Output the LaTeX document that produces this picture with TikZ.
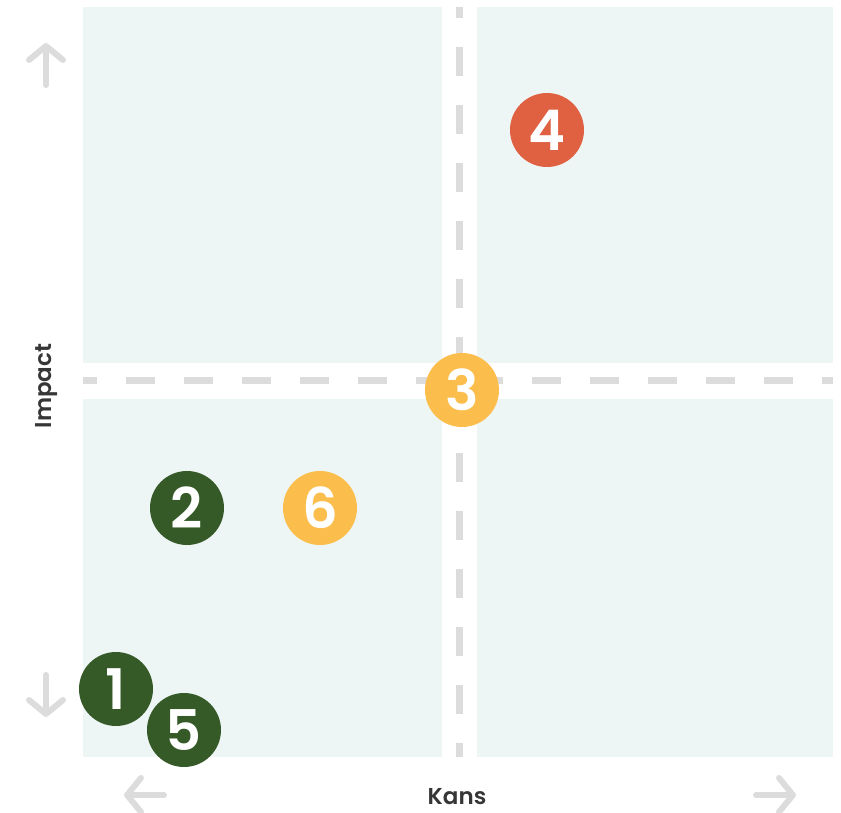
\documentclass[tikz,border=0pt]{standalone}
\usepackage{fontspec}
\setmainfont{Poppins}
\newfontfamily\numfont{Poppins SemiBold}
\newfontfamily\labfont{Poppins SemiBold}
\usetikzlibrary{arrows.meta}
\definecolor{quadfill}{HTML}{EEF6F5}
\definecolor{axgray}{HTML}{DCDCDC}
\definecolor{dkgreen}{HTML}{355A27}
\definecolor{rust}{HTML}{DF6142}
\definecolor{sun}{HTML}{FBBD4C}
\definecolor{inkgray}{HTML}{363636}

\begin{document}
\begin{tikzpicture}[
    x=1pt, y=-1pt,
    quad/.style={fill=quadfill},
    divider/.style={axgray, line width=7pt, dash pattern=on 29pt off 29pt},
    axarrow/.style={axgray, line width=6pt, line cap=round,
      -{Straight Barb[round, length=14pt, width=34pt]}},
    dot/.style={circle, minimum size=74pt, inner sep=0pt,
      text=white, font=\numfont\fontsize{56}{56}\selectfont},
    axlabel/.style={text=inkgray, font=\labfont\fontsize{23}{23}\selectfont},
  ]

  % Canvas
  \useasboundingbox (0,0) rectangle (841,813);

  % === Quadrants ===
  \fill[quad] (83,7) rectangle (442,363);
  \fill[quad] (477,7) rectangle (833,363);
  \fill[quad] (83,399) rectangle (442,757);
  \fill[quad] (477,399) rectangle (833,757);

  % Dashed dividers
  \draw[divider, dash phase=18pt] (459.5,7) -- (459.5,757);
  \draw[divider, dash phase=15pt] (83,380.5) -- (833,380.5);

  % === Axis arrows ===
  \draw[axarrow] (46,85) -- (46,43);
  \draw[axarrow] (46,675) -- (46,717);
  \draw[axarrow] (164,795) -- (124,795);
  \draw[axarrow] (756,795) -- (796,795);

  % Axis labels
  \node[axlabel, rotate=90] (impact) at (47,386) {Impact};
  \node[axlabel] (kans) at (457,797) {Kans};

  % === Risks ===
  \node[dot, fill=rust] (r4) at (547,130) {4};
  \node[dot, fill=sun] (r3) at (462,390) {3};
  \node[dot, fill=dkgreen] (r2) at (187,508) {2};
  \node[dot, fill=sun] (r6) at (320,508) {6};
  \node[dot, fill=dkgreen] (r1) at (116,689) {1};
  \node[dot, fill=dkgreen] (r5) at (184,730) {5};

\end{tikzpicture}
\end{document}
